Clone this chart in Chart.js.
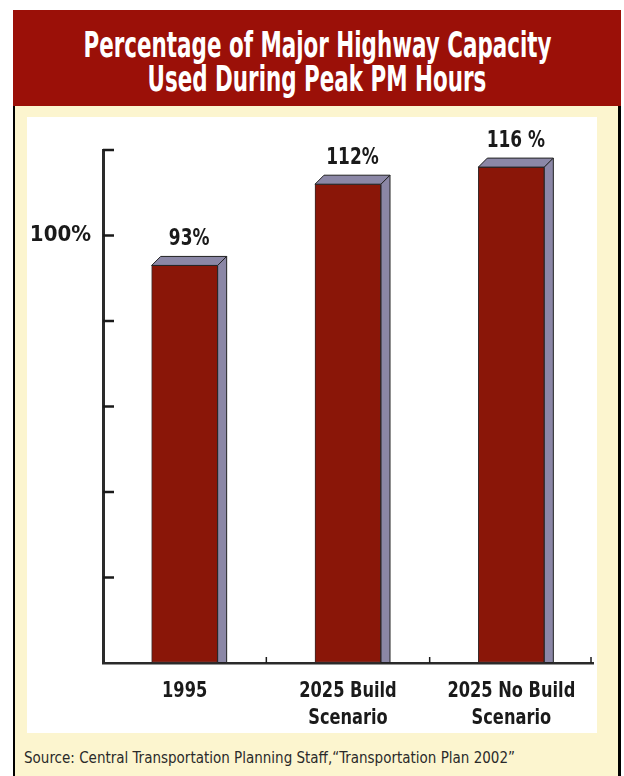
<!DOCTYPE html>
<html>
<head>
<meta charset="utf-8">
<script src="https://cdn.jsdelivr.net/npm/chart.js@4.4.1/dist/chart.umd.min.js"></script>
<style>
  html, body { margin: 0; padding: 0; background: #fff; }
  body { width: 624px; height: 776px; position: relative; overflow: hidden;
         font-family: "DejaVu Sans Condensed", "Liberation Sans Narrow", sans-serif; }
  #header { position: absolute; left: 13px; top: 10px; width: 608px; height: 96px; background: #9b1008; overflow: hidden; }
  .tline { position: absolute; left: -200px; width: 1008px; text-align: center; color: #fff;
           font-weight: bold; font-size: 36px; line-height: 36px; white-space: nowrap; }
  .tline span { display: inline-block; transform-origin: 50% 50%; }
  #panel { position: absolute; left: 13px; top: 106px; width: 603px; height: 670px; background: #fcf5cf;
           border-left: 2px solid #000; border-right: 3px solid #000; }
  #plot { position: absolute; left: 27px; top: 117px; width: 570px; height: 616px; background: #fff; }
  #source { position: absolute; left: 24px; top: 749px; font-size: 15px; line-height: 18px; color: #2a2a2a; white-space: nowrap; }
</style>
</head>
<body>
<div id="header">
  <div class="tline" style="top:17px"><span id="t1">Percentage of Major Highway Capacity</span></div>
  <div class="tline" style="top:51px"><span id="t2">Used During Peak PM Hours</span></div>
</div>
<div id="panel"></div>
<div id="plot"><canvas id="chart" width="570" height="616"></canvas></div>
<div id="source">Source: Central Transportation Planning Staff,“Transportation Plan 2002”</div>
<script>
const categories = [['1995'], ['2025 Build', 'Scenario'], ['2025 No Build', 'Scenario']];
const capacityUsed = [93, 112, 116];
const valueLabels = ['93%', '112%', '116 %'];
const yTicks = [0, 20, 40, 60, 80, 100, 120];

const FONT = '"DejaVu Sans Condensed", "Liberation Sans Narrow", sans-serif';
const DEPTH = 9;
const SQUEEZE = 0.82;

// squeeze the title to the narrow width of the original lettering
const k = 468 / document.getElementById('t1').offsetWidth;
['t1', 't2'].forEach(id => { document.getElementById(id).style.transform = 'scaleX(' + k + ')'; });

function narrowText(ctx, text, x, y) {
  ctx.save();
  ctx.translate(x, y);
  ctx.scale(SQUEEZE, 1);
  ctx.fillText(text, 0, 0);
  ctx.restore();
}

// 3d top/side faces, value labels, category labels and the inward tick marks
const bar3d = {
  id: 'bar3d',
  afterDatasetsDraw(chart) {
    const ctx = chart.ctx;
    const meta = chart.getDatasetMeta(0);
    const ys = chart.scales.y, xs = chart.scales.x;
    ctx.save();
    meta.data.forEach((bar, i) => {
      const l = bar.x - bar.width / 2, r = bar.x + bar.width / 2;
      const t = bar.y, b = bar.base;
      ctx.fillStyle = '#8b87a6';
      ctx.strokeStyle = '#222';
      ctx.lineWidth = 1;
      ctx.beginPath();
      ctx.moveTo(l, t); ctx.lineTo(l + DEPTH, t - DEPTH); ctx.lineTo(r + DEPTH, t - DEPTH); ctx.lineTo(r, t);
      ctx.closePath(); ctx.fill(); ctx.stroke();
      ctx.beginPath();
      ctx.moveTo(r, t); ctx.lineTo(r + DEPTH, t - DEPTH); ctx.lineTo(r + DEPTH, b); ctx.lineTo(r, b);
      ctx.closePath(); ctx.fill(); ctx.stroke();
      ctx.fillStyle = '#1a1a1a';
      ctx.font = 'bold 23px ' + FONT;
      ctx.textAlign = 'center';
      ctx.textBaseline = 'alphabetic';
      narrowText(ctx, valueLabels[i], bar.x + DEPTH / 2, t - DEPTH - 11);
    });
    categories.forEach((lines, i) => {
      const px = xs.getPixelForValue(i);
      ctx.fillStyle = '#1a1a1a';
      ctx.font = 'bold 22px ' + FONT;
      ctx.textAlign = 'center';
      ctx.textBaseline = 'alphabetic';
      lines.forEach((s, j) => narrowText(ctx, s, px, ys.bottom + 34 + j * 27));
    });
    ctx.strokeStyle = '#1a1a1a';
    ctx.lineWidth = 2.5;
    yTicks.forEach(v => {
      if (v === 0) return;
      const py = ys.getPixelForValue(v);
      ctx.beginPath(); ctx.moveTo(xs.left, py); ctx.lineTo(xs.left + 11, py); ctx.stroke();
    });
    const step = (xs.right - xs.left) / categories.length;
    ctx.lineWidth = 1.5;
    for (let i = 1; i <= categories.length; i++) {
      const px = xs.left + step * i - (i === categories.length ? 2 : 0);
      ctx.beginPath(); ctx.moveTo(px, ys.bottom); ctx.lineTo(px, ys.bottom - 6); ctx.stroke();
    }
    ctx.restore();
  }
};

new Chart(document.getElementById('chart'), {
  type: 'bar',
  data: {
    labels: categories,
    datasets: [{
      data: capacityUsed,
      backgroundColor: '#8a1608',
      borderColor: '#3a2a2a',
      borderWidth: 1,
      borderSkipped: false,
      barThickness: 66
    }]
  },
  options: {
    responsive: false,
    animation: false,
    events: [],
    layout: { padding: { top: 33, right: 4, bottom: 0, left: 0 } },
    plugins: { legend: { display: false }, tooltip: { enabled: false }, title: { display: false } },
    scales: {
      y: {
        min: 0, max: 120,
        afterFit(scale) { scale.width = 76; },
        afterBuildTicks(scale) { scale.ticks = yTicks.map(v => ({ value: v })); },
        ticks: {
          callback: v => v === 100 ? '100%' : '',
          color: '#1a1a1a',
          font: { family: FONT, size: 22, weight: 'bold' },
          padding: 12
        },
        grid: { display: true, drawOnChartArea: false, tickLength: 0 },
        border: { display: true, color: '#2a2a2a', width: 3 }
      },
      x: {
        afterFit(scale) { scale.height = 70; },
        ticks: { display: false },
        grid: { display: true, drawOnChartArea: false, drawTicks: false },
        border: { display: true, color: '#2a2a2a', width: 2.5 }
      }
    }
  },
  plugins: [bar3d]
});
</script>
</body>
</html>
